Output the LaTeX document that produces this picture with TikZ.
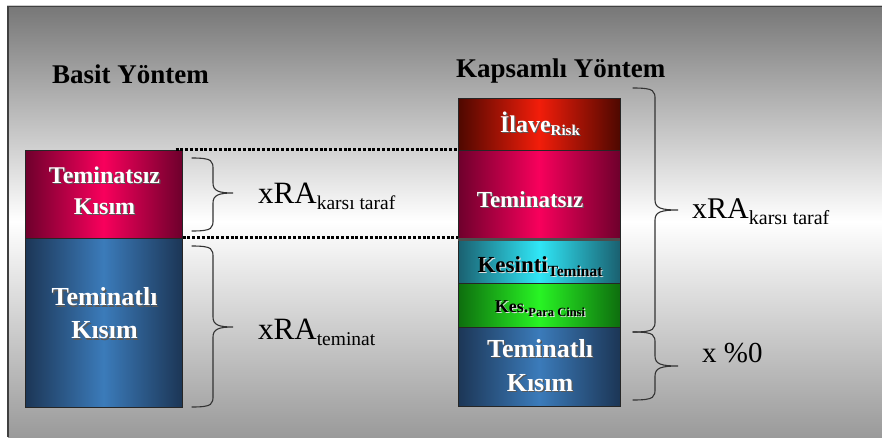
\documentclass[tikz,border=0pt]{standalone}
\usepackage{fontspec}
\setmainfont{Liberation Serif}
\usetikzlibrary{calc}
\definecolor{bgtop}{HTML}{777777}
\definecolor{bgbot}{HTML}{9A9A9A}
\definecolor{redE}{HTML}{4E0800}
\definecolor{redC}{HTML}{F21D0A}
\definecolor{magE}{HTML}{6E002C}
\definecolor{magC}{HTML}{F8005C}
\definecolor{cyaE}{HTML}{1A6070}
\definecolor{cyaC}{HTML}{30E6F6}
\definecolor{grnE}{HTML}{0E6E0E}
\definecolor{grnC}{HTML}{28F424}
\definecolor{bluE}{HTML}{1C3656}
\definecolor{bluC}{HTML}{3B7BBA}
\newcommand{\shw}[1]{\makebox[0pt][l]{\hspace{1.3pt}\raisebox{-1.3pt}{\color{black!65}#1}}#1}
\newcommand{\shb}[1]{\makebox[0pt][l]{\hspace{1.2pt}\raisebox{-1.2pt}{\color{white!75!gray}#1}}#1}
\newcommand{\fsz}[1]{\fontsize{#1}{#1}\selectfont}
\newcommand{\mybrace}[6]{%
  \draw[bracestyle] (#1,#4) .. controls (#2,#4) and (#2,#4+3) .. (#2,#4+12)
    -- (#2,#5-10) .. controls (#2,#5-2) and (#2+6,#5) .. (#3,#5)
    .. controls (#2+6,#5) and (#2,#5+2) .. (#2,#5+10)
    -- (#2,#6-12) .. controls (#2,#6-3) and (#2,#6) .. (#1,#6);}
\begin{document}
\begin{tikzpicture}[x=1pt,y=-1pt,
  boxstyle/.style={draw=black!85,line width=1pt,inner sep=0pt,minimum width=#1},
  boxstyle/.default=162pt,
  wtext/.style={text=white,font=\bfseries,inner sep=0pt,align=center},
  btext/.style={text=black,font=\bfseries,inner sep=0pt,align=center},
  lbl/.style={text=black,inner sep=0pt,anchor=base west},
  title/.style={text=black,font=\bfseries\fsz{27},inner sep=0pt,anchor=base west},
  dotline/.style={line width=3pt,dash pattern=on 3pt off 1.8pt,black},
  bracestyle/.style={line width=1.1pt,black!80,line cap=round}]
\useasboundingbox (0,0) rectangle (882,439);
\fill[white] (0,0) rectangle (882,439);
\shade[top color=bgtop,bottom color=bgbot,middle color=white] (8,6) rectangle (882,437);
\draw[black!75,line width=1.6pt] (8,437) -- (8,6) -- (882,6);
\draw[black!20,line width=0.8pt] (7,5) -- (882,5);

% titles
\node[title] (t1) at (52,83) {Basit Yöntem};
\node[title] (t2) at (456,77) {Kapsamlı Yöntem};

% left column
\node[boxstyle=157pt,minimum height=88pt,left color=magE,right color=magE,middle color=magC] (lt) at (103.5,194) {};
\node[boxstyle=157pt,minimum height=169pt,left color=bluE,right color=bluE,middle color=bluC] (lb) at (103.5,322.5) {};
\node[wtext,font=\bfseries\fsz{24},text width=150pt] (ltt) at (104.5,191) {\shw{Teminatsız}\\[7pt]\shw{Kısım}};
\node[wtext,font=\bfseries\fsz{26},text width=150pt] (lbt) at (104.5,314) {\shw{Teminatlı}\\[7pt]\shw{Kısım}};

% right column
\node[boxstyle,minimum height=52pt,left color=redE,right color=redE,middle color=redC] (r1) at (539,124) {};
\node[boxstyle,minimum height=88pt,left color=magE,right color=magE,middle color=magC] (r2) at (539,194) {};
\node[boxstyle,minimum height=45pt,left color=cyaE,right color=cyaE,middle color=cyaC] (r3) at (539,260.5) {};
\node[boxstyle,minimum height=44pt,left color=grnE,right color=grnE,middle color=grnC] (r4) at (539,305) {};
\node[boxstyle,minimum height=79pt,left color=bluE,right color=bluE,middle color=bluC] (r5) at (539,366.5) {};
\fill[black!70] ($(r3.north west)+(0.5,0)$) rectangle ($(r3.north east)+(-0.5,3.5)$);

\node[wtext,anchor=base] (r1t) at (540,132) {\shw{\fsz{24}İlave\raisebox{-3pt}{\fsz{15}Risk}}};
\node[wtext,anchor=base] (r2t) at (530,207) {\shw{\fsz{23}Teminatsız}};
\node[btext,anchor=base] (r3t) at (540,272) {\shb{\fsz{23}Kesinti\raisebox{-4pt}{\fsz{15.5}Teminat}}};
\node[btext,anchor=base] (r4t) at (540,312) {\shb{\fsz{18}Kes.\raisebox{-4pt}{\fsz{12.5}Para Cinsi}}};
\node[wtext,font=\bfseries\fsz{26},text width=150pt] (r5t) at (540,366) {\shw{Teminatlı}\\[8pt]\shw{Kısım}};

% dotted guide lines
\draw[dotline] ($(lt.north east)+(-7,0)$) -- (r2.north west);
\draw[dotline] (lb.north east) -- (r3.north west);

% braces
\mybrace{192}{213}{233}{158}{193}{231}
\mybrace{192}{213}{233}{246}{327}{407}
\mybrace{633}{655}{678}{88}{210}{332}
\mybrace{633}{655}{678}{332}{366}{400}

% labels
\node[lbl,font=\fsz{31}] (l1) at (258,203) {xRA\raisebox{-6pt}{\fsz{19.5}karsı taraf}};
\node[lbl,font=\fsz{31}] (l2) at (258,339) {xRA\raisebox{-6pt}{\fsz{19.5}teminat}};
\node[lbl,font=\fsz{30}] (l3) at (692,218) {xRA\raisebox{-6pt}{\fsz{20}karsı taraf}};
\node[lbl,font=\fsz{29}] (l4) at (702,362) {x \%0};
\end{tikzpicture}
\end{document}
